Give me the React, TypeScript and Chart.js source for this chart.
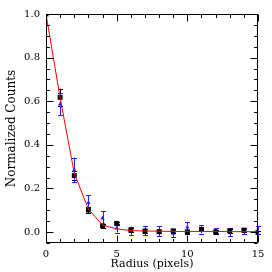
import React, { useEffect, useRef } from "react";
import { Chart, registerables } from "chart.js";

Chart.register(...registerables);

const radius = [0, 1, 2, 3, 4, 5, 6, 7, 8, 9, 10, 11, 12, 13, 14, 15];
const blackCounts = [1.0, 0.618, 0.259, 0.101, 0.029, 0.04, 0.009, 0.005, 0.002, 0.006, 0.001, 0.012, 0.001, 0.006, 0.009, -0.001];
const blackErr = [0, 0.04, 0.022, 0.014, 0.008, 0.008, 0.008, 0.008, 0.008, 0.008, 0.008, 0.008, 0.008, 0.008, 0.008, 0.008];
const blueCounts = [null, 0.586, 0.285, 0.135, 0.064, 0.018, 0.005, 0.007, 0.004, -0.006, 0.022, 0.013, 0.006, 0.0, 0.004, 0.01];
const blueErr = [null, 0.05, 0.057, 0.035, 0.033, 0.02, 0.02, 0.022, 0.022, 0.018, 0.022, 0.02, 0.012, 0.018, 0.012, 0.017];
const modelCounts = [1.0, 0.615, 0.27, 0.105, 0.032, 0.015, 0.007, 0.005, 0.004, 0.003, 0.003, 0.003, 0.003, 0.002, 0.002, 0.002];
const yTicks = [0, 0.2, 0.4, 0.6, 0.8, 1.0];
const xTicks = [0, 5, 10, 15];
const yMinorStep = 0.05;
const xMinorStep = 1;

const FONT = "'DejaVu Serif', serif";

const errorBarPlugin = {
  id: "errorBars",
  beforeDatasetsDraw(chart: any) {
    const { ctx, scales } = chart;
    const xs = scales.x;
    const ys = scales.y;
    chart.data.datasets.forEach((ds: any, i: number) => {
      if (!ds.errors) return;
      const meta = chart.getDatasetMeta(i);
      if (meta.hidden) return;
      ctx.save();
      ctx.strokeStyle = ds.errorColor;
      ctx.lineWidth = 1;
      ds.data.forEach((p: any, j: number) => {
        const e = ds.errors[j];
        if (p == null || p.y == null || e == null || e === 0) return;
        const px = Math.round(xs.getPixelForValue(p.x)) + 0.5;
        const top = ys.getPixelForValue(p.y + e);
        const bot = ys.getPixelForValue(p.y - e);
        const cap = ds.capWidth;
        ctx.beginPath();
        ctx.moveTo(px, top);
        ctx.lineTo(px, bot);
        ctx.moveTo(px - cap, Math.round(top) + 0.5);
        ctx.lineTo(px + cap, Math.round(top) + 0.5);
        ctx.moveTo(px - cap, Math.round(bot) + 0.5);
        ctx.lineTo(px + cap, Math.round(bot) + 0.5);
        ctx.stroke();
      });
      ctx.restore();
    });
  },
};

const framePlugin = {
  id: "frameTicks",
  afterDatasetsDraw(chart: any) {
    const { ctx, chartArea, scales } = chart;
    const { left, right, top, bottom } = chartArea;
    const xs = scales.x;
    const ys = scales.y;
    ctx.save();
    ctx.strokeStyle = "#000";
    ctx.lineWidth = 1;
    ctx.beginPath();
    const L = Math.round(left) + 0.5;
    const R = Math.round(right) - 0.5;
    const T = Math.round(top) + 0.5;
    const B = Math.round(bottom) - 0.5;
    ctx.rect(L, T, R - L, B - T);
    ctx.stroke();
    const major = 7;
    const minor = 3.5;
    ctx.beginPath();
    for (let v = 0; v <= 15 + 1e-9; v += xMinorStep) {
      const isMajor = xTicks.some((t) => Math.abs(t - v) < 1e-6);
      const len = isMajor ? major : minor;
      const px = Math.round(xs.getPixelForValue(v)) + 0.5;
      ctx.moveTo(px, B);
      ctx.lineTo(px, B - len);
      ctx.moveTo(px, T);
      ctx.lineTo(px, T + len);
    }
    for (let k = -1; k <= 20; k++) {
      const v = k * yMinorStep;
      if (v < ys.min - 1e-9 || v > ys.max + 1e-9) continue;
      const isMajor = yTicks.some((t) => Math.abs(t - v) < 1e-6);
      const len = isMajor ? major : minor;
      const py = Math.round(ys.getPixelForValue(v)) + 0.5;
      ctx.moveTo(L, py);
      ctx.lineTo(L + len, py);
      ctx.moveTo(R, py);
      ctx.lineTo(R - len, py);
    }
    ctx.stroke();
    ctx.restore();
  },
};

export default function App() {
  const ref = useRef<HTMLCanvasElement>(null);
  useEffect(() => {
    document.body.style.margin = "0";
    const canvas = ref.current;
    if (!canvas) return;
    const chart = new Chart(canvas, {
      type: "line",
      data: {
        datasets: [
          {
            label: "model",
            data: radius.map((x, i) => ({ x, y: modelCounts[i] })),
            borderColor: "#ff0000",
            borderWidth: 1,
            pointRadius: 0,
            tension: 0,
            fill: false,
            order: 0,
          } as any,
          {
            label: "black",
            data: radius.map((x, i) => ({ x, y: blackCounts[i] })),
            errors: blackErr,
            errorColor: "#000000",
            capWidth: 2.5,
            showLine: false,
            pointStyle: "rect",
            pointRadius: 3.5,
            backgroundColor: "#000000",
            borderColor: "#000000",
            borderWidth: 0,
            order: 1,
          } as any,
          {
            label: "blue",
            data: radius.map((x, i) => ({ x, y: blueCounts[i] })),
            errors: blueErr,
            errorColor: "#2020ff",
            capWidth: 2.5,
            showLine: false,
            pointStyle: "triangle",
            pointRadius: 2.5,
            backgroundColor: "#2020ff",
            borderColor: "#2020ff",
            borderWidth: 0,
            order: 2,
          } as any,
        ],
      },
      options: {
        animation: false,
        responsive: false,
        maintainAspectRatio: false,
        events: [],
        layout: { padding: { top: 14, right: 14, left: 0, bottom: 0 } },
        plugins: { legend: { display: false }, tooltip: { enabled: false } },
        scales: {
          x: {
            type: "linear",
            min: 0,
            max: 15,
            grid: { display: false, drawTicks: false },
            border: { display: false },
            afterBuildTicks: (s: any) => {
              s.ticks = xTicks.map((v) => ({ value: v }));
            },
            afterFit: (s: any) => {
              s.height = 29;
            },
            ticks: {
              color: "#000",
              padding: 5,
              maxRotation: 0,
              autoSkip: false,
              font: { family: FONT, size: 10 },
              callback: (v: any) => String(v),
            },
            title: {
              display: true,
              text: "Radius (pixels)",
              color: "#000",
              font: { family: FONT, size: 11 },
              padding: { top: 0, bottom: 1 },
            },
          },
          y: {
            type: "linear",
            min: -0.05,
            max: 1.0,
            grid: { display: false, drawTicks: false },
            border: { display: false },
            afterBuildTicks: (s: any) => {
              s.ticks = yTicks.map((v) => ({ value: v }));
            },
            afterFit: (s: any) => {
              s.width = 46;
            },
            ticks: {
              color: "#000",
              padding: 6,
              autoSkip: false,
              font: { family: FONT, size: 10 },
              callback: (v: any) => Number(v).toFixed(1),
            },
            title: {
              display: true,
              text: "Normalized Counts",
              color: "#000",
              font: { family: FONT, size: 12 },
              padding: { top: 5, bottom: 0 },
            },
          },
        },
      } as any,
      plugins: [errorBarPlugin, framePlugin],
    });
    return () => chart.destroy();
  }, []);
  return (
    <div style={{ position: "absolute", left: 0, top: 0, width: 272, height: 272 }}>
      <canvas ref={ref} width={272} height={272} style={{ width: 272, height: 272 }} />
    </div>
  );
}
